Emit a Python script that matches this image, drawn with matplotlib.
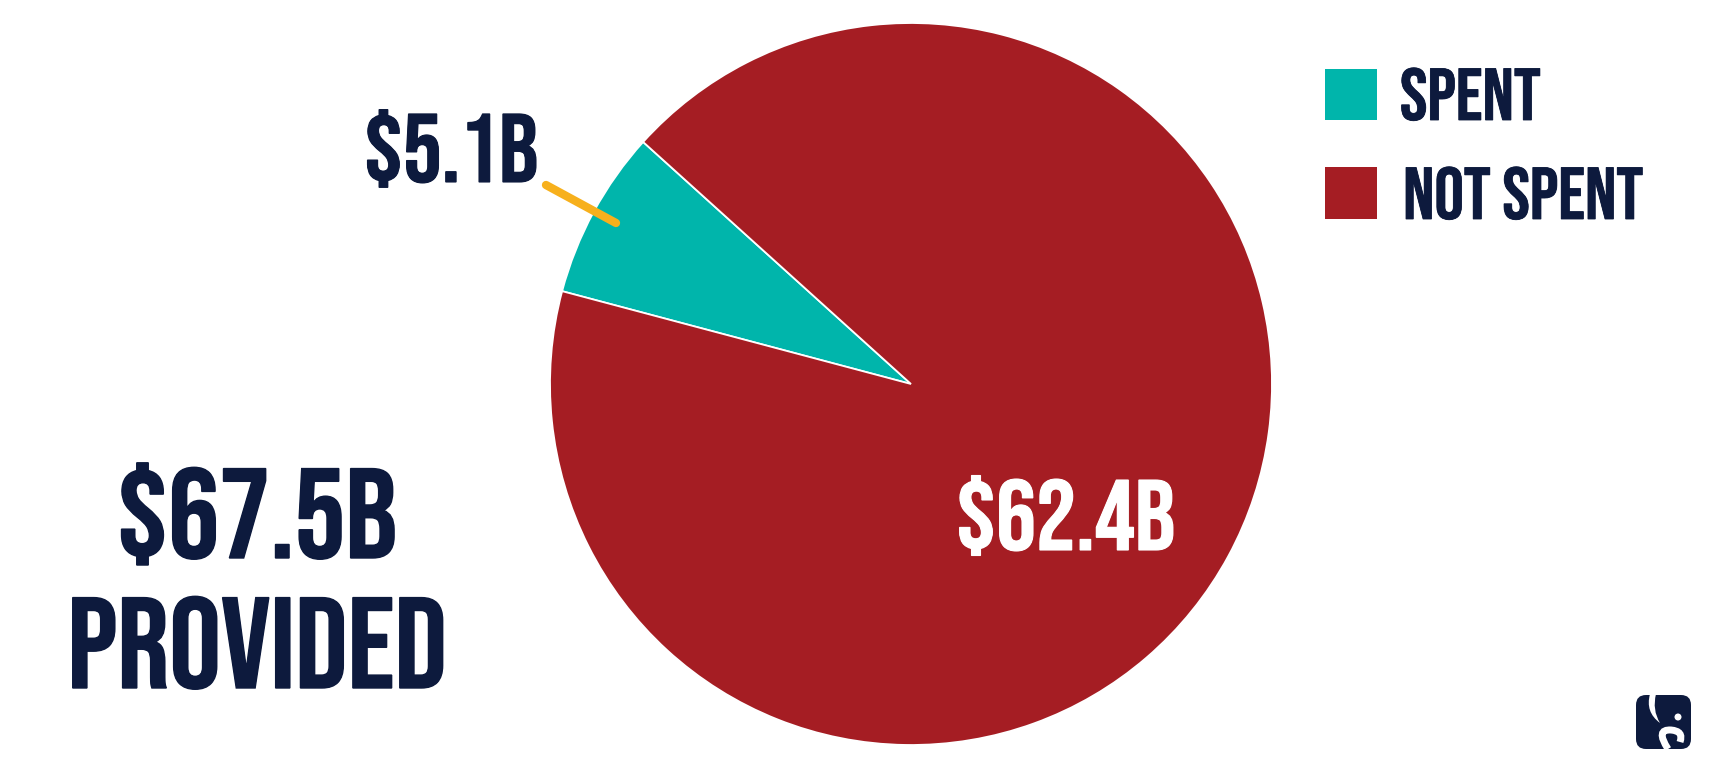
import matplotlib
matplotlib.use("Agg")
import matplotlib.patheffects as pe
import matplotlib.pyplot as plt
from matplotlib.patches import Circle, FancyBboxPatch, PathPatch, Rectangle
from matplotlib.path import Path

labels = ["SPENT", "NOT SPENT"]
values = [5.1, 62.4]
slice_labels = ["$5.1B", "$62.4B"]
total_lines = ["$67.5B", "PROVIDED"]

TEAL = "#00B5AB"
RED = "#A51D23"
NAVY = "#0D1A3D"
GOLD = "#F7B01C"

W, H = 1709, 768
plt.rcParams["font.family"] = ["Bebas Neue", "Oswald", "Liberation Sans", "DejaVu Sans"]


def y_(y):
    # picture coordinates run downwards, the axes upwards
    return H - y


def bold(color, lw=0.8):
    # the reference face is a bit heavier than Bebas Neue Regular
    return [pe.withStroke(linewidth=lw, foreground=color, joinstyle="miter")]


fig = plt.figure(figsize=(W / 100, H / 100), dpi=100)
ax = fig.add_axes([0, 0, 1, 1])

ax.pie(values, colors=[TEAL, RED], startangle=137.9, counterclock=True,
       center=(911, y_(384)), radius=361,
       wedgeprops={"edgecolor": "white", "linewidth": 1.3})
ax.set_xlim(0, W)
ax.set_ylim(0, H)
ax.set_aspect("equal")
ax.axis("off")

# leader line for the small slice
ax.plot([546, 616], [y_(185), y_(223)], color=GOLD, lw=6, solid_capstyle="round")

ax.text(364, y_(182), slice_labels[0], color=NAVY, fontsize=70, va="baseline", ha="left",
        path_effects=bold(NAVY))
ax.text(956, y_(550), slice_labels[1], color="white", fontsize=72, va="baseline", ha="left",
        path_effects=bold("white"))

ax.text(257, y_(558), total_lines[0], color=NAVY, fontsize=92, va="baseline", ha="center",
        path_effects=bold(NAVY, 1))
ax.text(257, y_(688), total_lines[1], color=NAVY, fontsize=93, va="baseline", ha="center",
        path_effects=bold(NAVY, 1))

# legend
for y0, y1, col, lab, xt in zip([69, 167], [120, 219], [TEAL, RED], labels, [1400, 1403]):
    ax.add_patch(Rectangle((1325, y_(y1)), 52, y1 - y0, facecolor=col, edgecolor="none"))
    ax.text(xt, y_(y1), lab, color=NAVY, fontsize=53, va="baseline", ha="left",
            path_effects=bold(NAVY, 0.6))

# logo
ax.add_patch(FancyBboxPatch((1644, y_(741)), 39, 38, boxstyle="round,pad=8,rounding_size=10",
                            facecolor=NAVY, edgecolor="none"))
ax.add_patch(Circle((1678, y_(717)), 3.5, facecolor="white", edgecolor="none"))
ear = Path([(1650, y_(694)), (1645, y_(712)), (1660, y_(723)),
            (1652, y_(710)), (1656, y_(694)), (1650, y_(694))],
           [Path.MOVETO, Path.CURVE3, Path.CURVE3, Path.CURVE3, Path.CURVE3, Path.CLOSEPOLY])
ax.add_patch(PathPatch(ear, facecolor="white", edgecolor="none"))
trunk = Path([(1668, y_(749)), (1655, y_(729)), (1671, y_(730)),
              (1684, y_(731)), (1680, y_(742))],
             [Path.MOVETO, Path.CURVE3, Path.CURVE3, Path.CURVE3, Path.CURVE3])
ax.add_patch(PathPatch(trunk, facecolor="none", edgecolor="white", lw=5, capstyle="butt"))

fig.savefig("out.png", dpi=100)
